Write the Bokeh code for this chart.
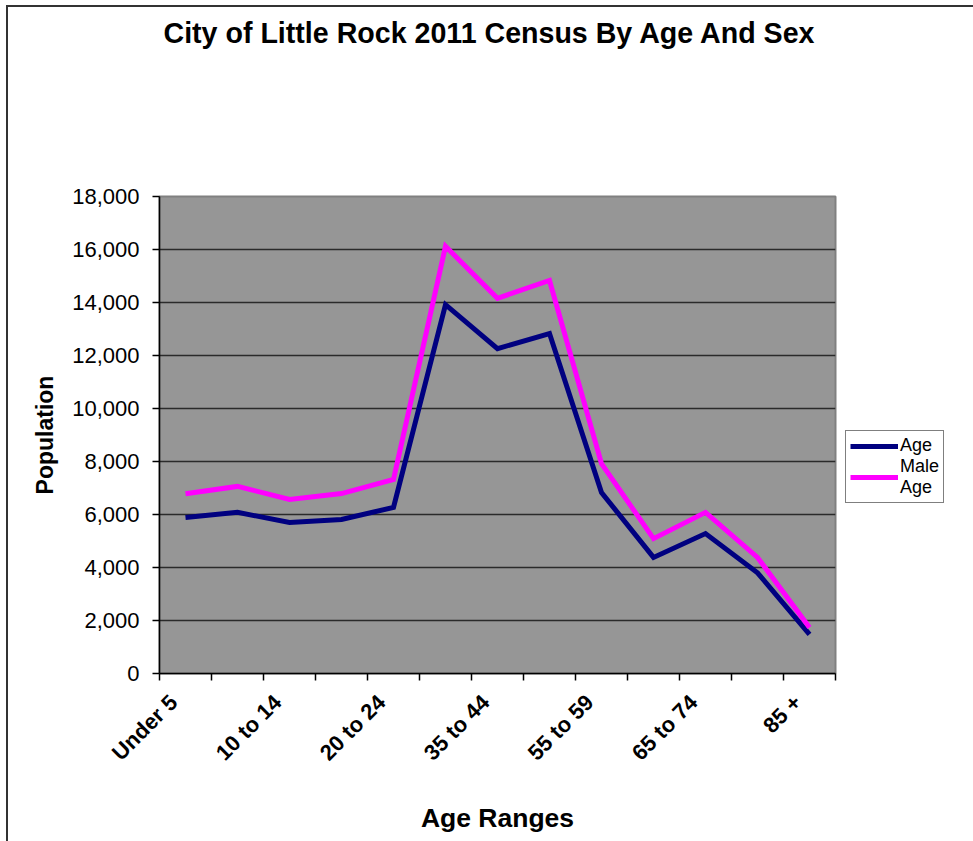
import math
from bokeh.plotting import figure
from bokeh.models import FixedTicker, NumeralTickFormatter, Legend, LegendItem, Range1d, Title
from bokeh.embed import file_html
from bokeh.resources import INLINE

# ---- data ----
categories = ["Under 5", "5 to 9", "10 to 14", "15 to 19", "20 to 24", "25 to 34",
              "35 to 44", "45 to 54", "55 to 59", "60 to 64", "65 to 74", "75 to 84", "85 +"]
series_1_name = "Age"
series_1 = [5890, 6080, 5700, 5810, 6270, 13920, 12260, 12830, 6830, 4380, 5280, 3800, 1480]
series_2_name = "Male\nAge"
series_2 = [6780, 7060, 6570, 6790, 7320, 16120, 14160, 14830, 7920, 5090, 6080, 4380, 1740]
y_ticks = [0, 2000, 4000, 6000, 8000, 10000, 12000, 14000, 16000, 18000]
title_text = "City of Little Rock 2011 Census By Age And Sex"
x_label = "Age Ranges"
y_label = "Population"

FONT = "Liberation Sans"

n = len(categories)
xs = [i + 0.5 for i in range(n)]
# rotated category labels sit a little left of the category centre (as in the original)
label_pos = [i + 0.27 for i in range(n)]

p = figure(
    frame_width=676, frame_height=477,
    x_range=Range1d(0, n), y_range=Range1d(y_ticks[0], y_ticks[-1]),
    output_backend="svg", toolbar_location=None,
    min_border_left=151, min_border_right=136, min_border_top=0, min_border_bottom=169,
    background_fill_color="#969696", border_fill_color="white",
    outline_line_color="#808080", outline_line_width=2,
    styles={"border": "2px solid #333333", "border-bottom": "none",
            "margin-left": "6px", "margin-top": "5px"},
)

# spacer between title and plot area (added first -> nearest to the frame)
p.add_layout(Title(text=" ", text_font_size="1px", standoff=138), "above")

# title
p.title.text = title_text
p.title.align = "left"
p.title.offset = 4
p.title.text_font = FONT
p.title.text_font_size = "28.6px"
p.title.text_font_style = "bold"
p.title.text_color = "black"
p.title.standoff = 14

# lines
r1 = p.line(xs, series_1, line_color="#000080", line_width=5, line_join="miter")
r2 = p.line(xs, series_2, line_color="#FF00FF", line_width=5, line_join="miter")

# x axis
xa = p.xaxis[0]
xa.ticker = FixedTicker(ticks=label_pos, minor_ticks=list(range(n + 1)))
xa.major_label_overrides = {x: (c if i % 2 == 0 else "") for i, (x, c) in enumerate(zip(label_pos, categories))}
xa.major_label_orientation = math.pi / 4
xa.major_tick_out = 0
xa.major_tick_in = 0
xa.minor_tick_out = 7
xa.minor_tick_in = 0
xa.minor_tick_line_color = "black"
xa.minor_tick_line_width = 1.5
xa.axis_line_color = "black"
xa.axis_line_width = 1.5
xa.major_label_text_font = FONT
xa.major_label_text_font_size = "22px"
xa.major_label_text_font_style = "bold"
xa.major_label_text_color = "black"
xa.major_label_standoff = 18
xa.axis_label = x_label
xa.axis_label_text_font = FONT
xa.axis_label_text_font_size = "26.5px"
xa.axis_label_text_font_style = "bold"
xa.axis_label_text_color = "black"
xa.axis_label_standoff = 26

# y axis
ya = p.yaxis[0]
ya.ticker = FixedTicker(ticks=y_ticks)
ya.formatter = NumeralTickFormatter(format="0,0")
ya.major_tick_out = 7
ya.major_tick_in = 0
ya.minor_tick_out = 0
ya.minor_tick_in = 0
ya.major_tick_line_width = 1.5
ya.axis_line_color = "black"
ya.axis_line_width = 1.5
ya.major_label_text_font = FONT
ya.major_label_text_font_size = "22px"
ya.major_label_text_color = "black"
ya.major_label_standoff = 13
ya.axis_label = y_label
ya.axis_label_text_font = FONT
ya.axis_label_text_font_size = "23px"
ya.axis_label_text_font_style = "bold"
ya.axis_label_text_color = "black"
ya.axis_label_standoff = 11

# grid
p.xgrid.grid_line_color = None
p.ygrid.ticker = FixedTicker(ticks=y_ticks)
p.ygrid.grid_line_color = "#2a2a2a"
p.ygrid.grid_line_width = 1.5

# legend
legend = Legend(
    items=[LegendItem(label=series_1_name, renderers=[r1]),
           LegendItem(label=series_2_name, renderers=[r2])],
    location=(10, 170),
    border_line_color="black", border_line_width=1,
    background_fill_color="white", background_fill_alpha=1,
    label_text_font=FONT, label_text_font_size="18px", label_text_color="black",
    label_text_line_height=0.85,
    glyph_width=48, glyph_height=14, label_height=14, label_standoff=2,
    spacing=0, padding=4, margin=0,
)
p.add_layout(legend, "right")

open("out.html", "w").write(file_html(p, INLINE))
